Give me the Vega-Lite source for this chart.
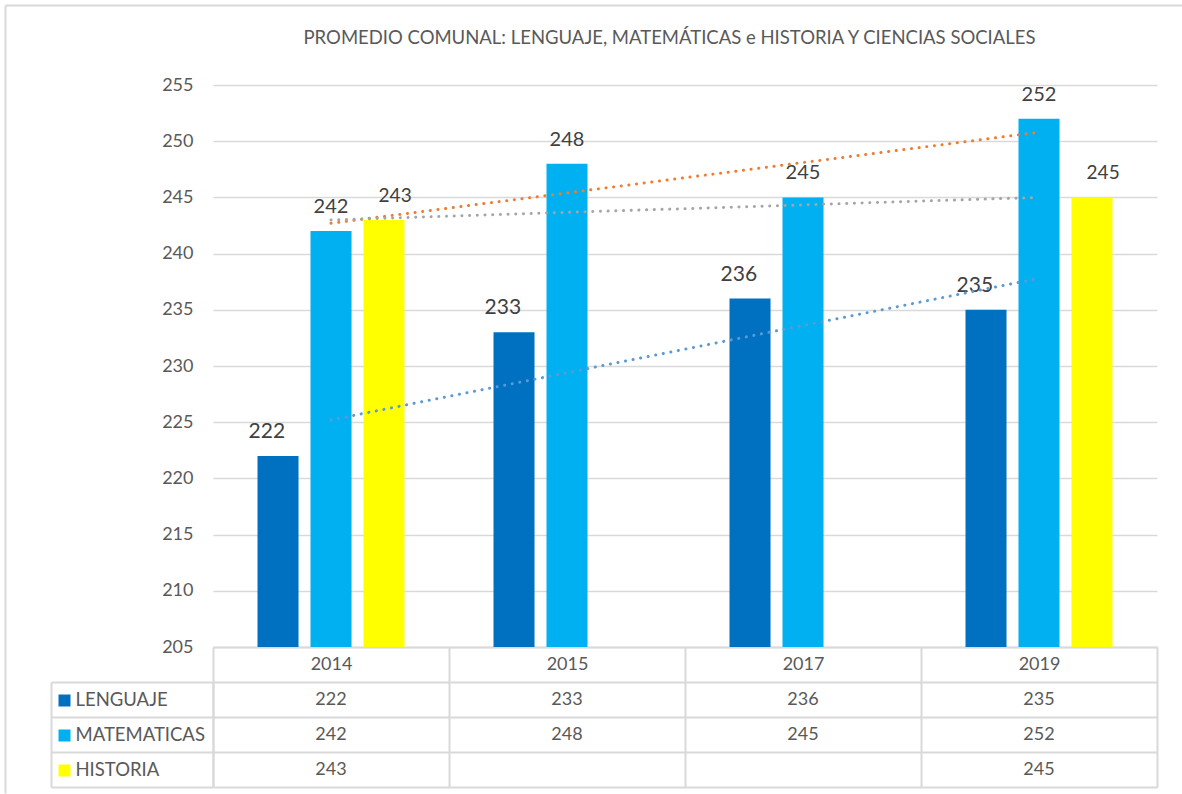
{
  "$schema": "https://vega.github.io/schema/vega-lite/v6.json",
  "background": "white",
  "padding": {"left": 5, "top": 5, "right": 0, "bottom": 0},
  "config": {
    "view": {"stroke": null},
    "font": "Lato",
    "text": {"font": "Lato"},
    "axis": {"labelFont": "Lato", "titleFont": "Lato"}
  },
  "datasets": {
    "puntajes": [
      {"anio": "2014", "serie": "LENGUAJE", "puntaje": 222},
      {"anio": "2014", "serie": "MATEMATICAS", "puntaje": 242},
      {"anio": "2014", "serie": "HISTORIA", "puntaje": 243},
      {"anio": "2015", "serie": "LENGUAJE", "puntaje": 233},
      {"anio": "2015", "serie": "MATEMATICAS", "puntaje": 248},
      {"anio": "2017", "serie": "LENGUAJE", "puntaje": 236},
      {"anio": "2017", "serie": "MATEMATICAS", "puntaje": 245},
      {"anio": "2019", "serie": "LENGUAJE", "puntaje": 235},
      {"anio": "2019", "serie": "MATEMATICAS", "puntaje": 252},
      {"anio": "2019", "serie": "HISTORIA", "puntaje": 245}
    ],
    "tendencias": [
      {"anio": "2014", "serie": "LENGUAJE", "valor": 225.2},
      {"anio": "2019", "serie": "LENGUAJE", "valor": 237.8},
      {"anio": "2014", "serie": "MATEMATICAS", "valor": 242.7},
      {"anio": "2019", "serie": "MATEMATICAS", "valor": 250.8},
      {"anio": "2014", "serie": "HISTORIA", "valor": 243},
      {"anio": "2019", "serie": "HISTORIA", "valor": 245}
    ],
    "tabla": [
      {"anio": "2014", "fila": "LENGUAJE", "texto": "222"},
      {"anio": "2015", "fila": "LENGUAJE", "texto": "233"},
      {"anio": "2017", "fila": "LENGUAJE", "texto": "236"},
      {"anio": "2019", "fila": "LENGUAJE", "texto": "235"},
      {"anio": "2014", "fila": "MATEMATICAS", "texto": "242"},
      {"anio": "2015", "fila": "MATEMATICAS", "texto": "248"},
      {"anio": "2017", "fila": "MATEMATICAS", "texto": "245"},
      {"anio": "2019", "fila": "MATEMATICAS", "texto": "252"},
      {"anio": "2014", "fila": "HISTORIA", "texto": "243"},
      {"anio": "2015", "fila": "HISTORIA", "texto": ""},
      {"anio": "2017", "fila": "HISTORIA", "texto": ""},
      {"anio": "2019", "fila": "HISTORIA", "texto": "245"}
    ]
  },
  "width": 944,
  "height": 562,
  "resolve": {
    "scale": {"x": "independent", "y": "independent", "xOffset": "independent"},
    "axis": {"x": "independent", "y": "independent"}
  },
  "layer": [
    {
      "data": {"name": "puntajes"},
      "mark": {"type": "bar"},
      "encoding": {
        "x": {"field": "anio", "type": "nominal", "scale": {"domain": ["2014", "2015", "2017", "2019"], "paddingInner": 0, "paddingOuter": 0}, "axis": null},
        "xOffset": {"field": "serie", "type": "nominal", "scale": {"domain": ["LENGUAJE", "MATEMATICAS", "HISTORIA"], "paddingInner": 0.226, "paddingOuter": 0.84}},
        "y": {
          "field": "puntaje", "type": "quantitative",
          "scale": {"domain": [205, 255], "nice": false, "zero": false},
          "axis": {
            "orient": "left", "values": [205, 210, 215, 220, 225, 230, 235, 240, 245, 250, 255],
            "grid": true, "gridColor": "#d9d9d9", "gridWidth": 1.5,
            "domain": false, "ticks": false,
            "labelFontSize": 18, "labelColor": "#595959", "labelPadding": 20, "title": null
          }
        },
        "y2": {"datum": 205},
        "fill": {"field": "serie", "type": "nominal", "scale": {"domain": ["LENGUAJE", "MATEMATICAS", "HISTORIA"], "range": ["#0070C0", "#00B0F0", "#FFFF00"]}, "legend": null}
      }
    },
    {
      "data": {"name": "puntajes"},
      "mark": {"type": "text", "baseline": "middle", "align": "center", "dy": -24, "color": "#404040"},
      "encoding": {
        "x": {"field": "anio", "type": "nominal", "scale": {"domain": ["2014", "2015", "2017", "2019"], "paddingInner": 0, "paddingOuter": 0}, "axis": null},
        "xOffset": {"field": "serie", "type": "nominal", "scale": {"domain": ["LENGUAJE", "MATEMATICAS", "HISTORIA"], "paddingInner": 0.226, "paddingOuter": 0.84}},
        "y": {"field": "puntaje", "type": "quantitative", "scale": {"domain": [205, 255], "nice": false, "zero": false}, "axis": null},
        "text": {"field": "puntaje", "type": "quantitative"},
        "size": {"field": "serie", "type": "nominal", "scale": {"domain": ["LENGUAJE", "MATEMATICAS", "HISTORIA"], "range": [21, 19, 21]}, "legend": null}
      }
    },
    {
      "data": {"name": "tendencias"},
      "mark": {"type": "line", "strokeWidth": 3, "strokeCap": "round", "strokeDash": [0.1, 7.6]},
      "encoding": {
        "x": {"field": "anio", "type": "nominal", "scale": {"domain": ["2014", "2015", "2017", "2019"], "paddingInner": 0, "paddingOuter": 0}, "axis": null},
        "y": {"field": "valor", "type": "quantitative", "scale": {"domain": [205, 255], "nice": false, "zero": false}, "axis": null},
        "stroke": {"field": "serie", "type": "nominal", "scale": {"domain": ["LENGUAJE", "MATEMATICAS", "HISTORIA"], "range": ["#5B9BD5", "#ED7D31", "#A5A5A5"]}, "legend": null}
      }
    },
    {
      "data": {"name": "tendencias"},
      "mark": {"type": "line", "strokeOpacity": 0},
      "encoding": {
        "x": {
          "field": "anio", "type": "nominal",
          "scale": {"domain": ["2014", "2015", "2017", "2019"], "range": [-208, 974]},
          "axis": {
            "orient": "top", "offset": 80, "domain": true, "domainColor": "#d9d9d9", "domainWidth": 2,
            "ticks": false, "labels": false, "grid": false,
            "title": "PROMEDIO COMUNAL: LENGUAJE, MATEMÁTICAS e HISTORIA Y CIENCIAS SOCIALES",
            "titleX": 456, "titleY": 32, "titleBaseline": "middle", "titleAlign": "center",
            "titleFontSize": 18.5, "titleFontWeight": "normal", "titleColor": "#595959"
          }
        },
        "y": {
          "field": "valor", "type": "quantitative",
          "scale": {"domain": [205, 255], "nice": false, "zero": false, "range": [708, -80]},
          "axis": {"orient": "left", "offset": 208, "domain": true, "domainColor": "#d9d9d9", "domainWidth": 2, "ticks": false, "labels": false, "grid": false, "title": null}
        }
      }
    },
    {
      "data": {"name": "tabla"},
      "mark": {"type": "text", "fontSize": 18, "color": "#595959", "baseline": "middle", "align": "center"},
      "encoding": {
        "x": {
          "field": "anio", "type": "nominal",
          "scale": {"domain": ["2014", "2015", "2017", "2019"], "paddingInner": 0, "paddingOuter": 0},
          "axis": {
            "orient": "bottom", "grid": false, "tickBand": "extent",
            "domain": true, "domainColor": "#d9d9d9", "domainWidth": 2,
            "ticks": true, "tickSize": 140, "tickWidth": 2, "tickColor": "#d9d9d9",
            "labels": true, "labelAngle": 0, "labelAlign": "center", "labelPadding": -122.5, "labelBaseline": "middle",
            "labelFontSize": 18, "labelColor": "#595959",
            "title": null
          }
        },
        "y": {
          "field": "fila", "type": "nominal",
          "scale": {"domain": ["LENGUAJE", "MATEMATICAS", "HISTORIA"], "paddingInner": 0, "paddingOuter": 0, "range": [597, 702]},
          "axis": {
            "orient": "left", "grid": true, "tickBand": "extent", "gridColor": "#d9d9d9", "gridWidth": 2,
            "labels": false, "domain": true, "domainColor": "#d9d9d9", "domainWidth": 2,
            "ticks": true, "tickSize": 162, "tickWidth": 2, "tickColor": "#d9d9d9",
            "title": null
          }
        },
        "text": {"field": "texto", "type": "nominal"}
      }
    },
    {
      "data": {"name": "tabla"},
      "mark": {"type": "text", "opacity": 0},
      "encoding": {
        "x": {"field": "anio", "type": "nominal", "scale": {"domain": ["2014", "2015", "2017", "2019"], "paddingInner": 0, "paddingOuter": 0}, "axis": null},
        "y": {
          "field": "fila", "type": "nominal",
          "scale": {"domain": ["LENGUAJE", "MATEMATICAS", "HISTORIA"], "paddingInner": 0, "paddingOuter": 0, "range": [597, 702]},
          "axis": {
            "orient": "left", "offset": 143, "domain": false, "grid": false,
            "ticks": true, "tickSize": 12, "tickWidth": 12,
            "tickColor": {
              "condition": [
                {"test": "datum.value === 'LENGUAJE'", "value": "#0070C0"},
                {"test": "datum.value === 'MATEMATICAS'", "value": "#00B0F0"}
              ],
              "value": "#FFFF00"
            },
            "labels": true, "labelAlign": "left", "labelPadding": -17, "labelBaseline": "middle",
            "labelFontSize": 18.5, "labelColor": "#595959",
            "title": null
          }
        },
        "text": {"field": "texto", "type": "nominal"}
      }
    },
    {
      "data": {"name": "tabla"},
      "mark": {"type": "text", "opacity": 0},
      "encoding": {
        "x": {"field": "anio", "type": "nominal", "scale": {"domain": ["2014", "2015", "2017", "2019"], "paddingInner": 0, "paddingOuter": 0}, "axis": null},
        "y": {
          "field": "fila", "type": "nominal",
          "scale": {"domain": ["LENGUAJE", "MATEMATICAS", "HISTORIA"], "paddingInner": 0, "paddingOuter": 0, "range": [597, 702]},
          "axis": {"orient": "left", "offset": 162, "domain": true, "domainColor": "#d9d9d9", "domainWidth": 2, "ticks": false, "labels": false, "grid": false, "title": null}
        },
        "text": {"field": "texto", "type": "nominal"}
      }
    }
  ]
}
